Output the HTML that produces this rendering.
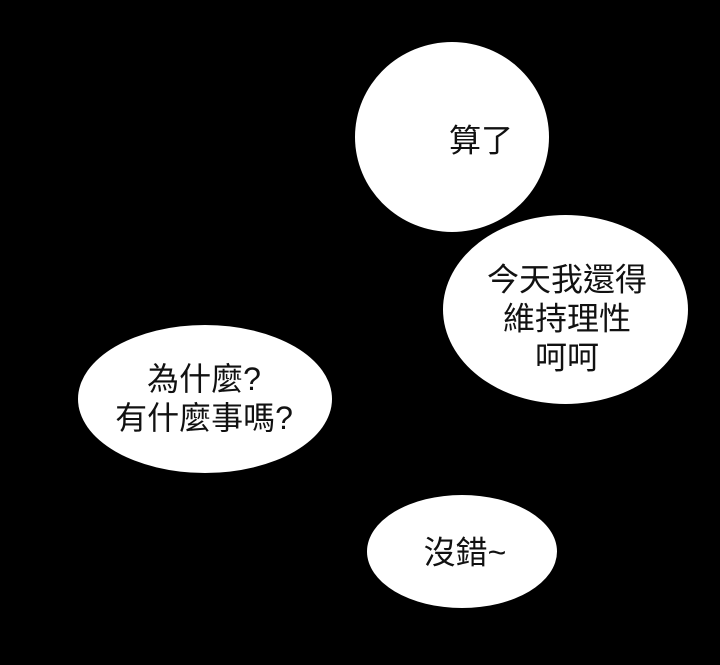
<!DOCTYPE html>
<html><head><meta charset="utf-8"><style>
body{margin:0;width:720px;height:665px;background:#000;overflow:hidden;position:relative;font-family:"Liberation Sans","Noto Sans CJK TC",sans-serif;}
.e{position:absolute;background:#fff;border-radius:50%;}
.t{position:absolute;color:#111;font-size:32px;line-height:39px;text-align:center;white-space:nowrap;transform:translate(-50%,-50%);}
</style></head><body>
<div class="e" style="left:355px;top:42px;width:194px;height:190px"></div>
<div class="e" style="left:443px;top:215px;width:245px;height:189px"></div>
<div class="e" style="left:78px;top:325px;width:254px;height:148px"></div>
<div class="e" style="left:367px;top:495px;width:190px;height:113px"></div>
<div class="t" style="left:481px;top:141px">算了</div>
<div class="t" style="left:567px;top:319px">今天我還得<br>維持理性<br>呵呵</div>
<div class="t" style="left:204px;top:399px">為什麼?<br>有什麼事嗎?</div>
<div class="t" style="left:465px;top:553px">沒錯~</div>
</body></html>
